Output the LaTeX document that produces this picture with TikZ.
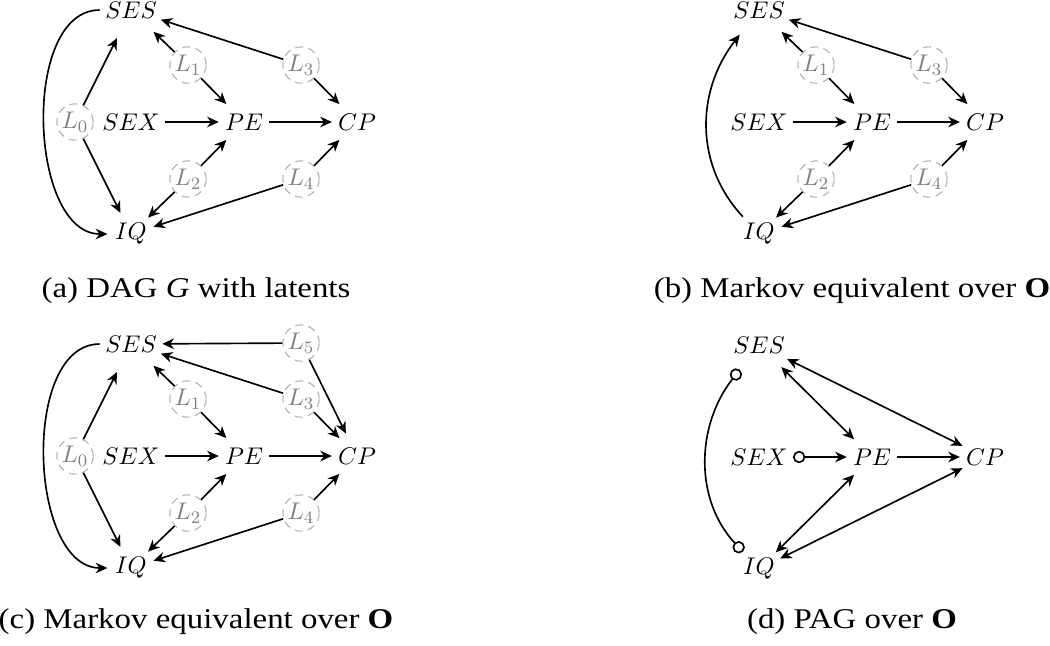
\documentclass[tikz,border=0pt]{standalone}
\usepackage{fontspec}
\usepackage{graphicx}
\newfontfamily\capfont{Liberation Serif}
\usetikzlibrary{arrows.meta}
\begin{document}
\begin{tikzpicture}[x=0.4545pt,y=0.4545pt,
  obs/.style={circle, inner sep=1.4pt, font=\fontsize{10.8}{13}\selectfont},
  lat/.style={circle, draw=gray!60, dash pattern=on 3.5pt off 2.5pt, line width=0.5pt, text=gray, minimum size=16.5pt, inner sep=0pt, font=\fontsize{10.8}{13}\selectfont},
  mytip/.tip={Stealth[length=5.3pt,width=4.8pt,inset=1.7pt]},
  myctip/.tip={Circle[open,length=5.6pt,fill=white]},
  arr/.style={line width=0.75pt, -mytip},
  biarr/.style={line width=0.75pt, mytip-mytip},
  ooarr/.style={line width=0.75pt, myctip-myctip},
  oaarr/.style={line width=0.75pt, myctip-mytip},
  captext/.style={anchor=base, font=\capfont\fontsize{13}{15}\selectfont}
]
\useasboundingbox (0,0) rectangle (1050,-645);

% ---------- (a) ----------
\begin{scope}[shift={(131,-122)}, name prefix=a-]
  \node[obs] (SEX) at (0,0) {$SEX$};
  \node[obs] (PE) at (113,0) {$PE$};
  \node[obs] (CP) at (226,0) {$CP$};
  \node[obs] (SES) at (0,112) {$SES$};
  \node[obs] (IQ) at (0,-112) {$IQ$};
  \node[lat] (L0) at (-56,0) {$L_0$};
  \node[lat] (L1) at (57,57) {$L_1$};
  \node[lat] (L2) at (57,-57) {$L_2$};
  \node[lat] (L3) at (170,57) {$L_3$};
  \node[lat] (L4) at (170,-57) {$L_4$};
  \draw[arr] (SEX) -- (PE);
  \draw[arr] (PE) -- (CP);
  \draw[arr] (L0) -- (SES);
  \draw[arr] (L0) -- (IQ);
  \draw[arr] (L1) -- (SES);
  \draw[arr] (L1) -- (PE);
  \draw[arr] (L2) -- (PE);
  \draw[arr] (L2) -- (IQ);
  \draw[arr] (L3) -- (SES);
  \draw[arr] (L3) -- (CP);
  \draw[arr] (L4) -- (CP);
  \draw[arr] (L4) -- (IQ);
  \draw[arr] (SES.180) to[out=180,in=180,looseness=0.9] (IQ.180);
\end{scope}
\node[captext] (capa) at (196,-297) {\scalebox{1.15}[1]{(a) DAG \textit{G} with latents}};

% ---------- (b) ----------
\begin{scope}[shift={(759,-122)}, name prefix=b-]
  \node[obs] (SEX) at (0,0) {$SEX$};
  \node[obs] (PE) at (113,0) {$PE$};
  \node[obs] (CP) at (226,0) {$CP$};
  \node[obs] (SES) at (0,112) {$SES$};
  \node[obs] (IQ) at (0,-112) {$IQ$};
  \node[lat] (L1) at (57,57) {$L_1$};
  \node[lat] (L2) at (57,-57) {$L_2$};
  \node[lat] (L3) at (170,57) {$L_3$};
  \node[lat] (L4) at (170,-57) {$L_4$};
  \draw[arr] (SEX) -- (PE);
  \draw[arr] (PE) -- (CP);
  \draw[arr] (L1) -- (SES);
  \draw[arr] (L1) -- (PE);
  \draw[arr] (L2) -- (PE);
  \draw[arr] (L2) -- (IQ);
  \draw[arr] (L3) -- (SES);
  \draw[arr] (L3) -- (CP);
  \draw[arr] (L4) -- (CP);
  \draw[arr] (L4) -- (IQ);
  \draw[arr] (IQ.133) to[out=133,in=232] (SES.232);
\end{scope}
\node[captext] (capb) at (852,-297) {\scalebox{1.15}[1]{(b) Markov equivalent over \textbf{O}}};

% ---------- (c) ----------
\begin{scope}[shift={(131,-456)}, name prefix=c-]
  \node[obs] (SEX) at (0,0) {$SEX$};
  \node[obs] (PE) at (113,0) {$PE$};
  \node[obs] (CP) at (226,0) {$CP$};
  \node[obs] (SES) at (0,112) {$SES$};
  \node[obs] (IQ) at (0,-112) {$IQ$};
  \node[lat] (L0) at (-56,0) {$L_0$};
  \node[lat] (L1) at (57,57) {$L_1$};
  \node[lat] (L2) at (57,-57) {$L_2$};
  \node[lat] (L3) at (170,57) {$L_3$};
  \node[lat] (L4) at (170,-57) {$L_4$};
  \node[lat] (L5) at (170,113) {$L_5$};
  \draw[arr] (SEX) -- (PE);
  \draw[arr] (PE) -- (CP);
  \draw[arr] (L0) -- (SES);
  \draw[arr] (L0) -- (IQ);
  \draw[arr] (L1) -- (SES);
  \draw[arr] (L1) -- (PE);
  \draw[arr] (L2) -- (PE);
  \draw[arr] (L2) -- (IQ);
  \draw[arr] (L3) -- (SES);
  \draw[arr] (L3) -- (CP);
  \draw[arr] (L4) -- (CP);
  \draw[arr] (L4) -- (IQ);
  \draw[arr] (L5) -- (SES);
  \draw[arr] (L5) -- (CP);
  \draw[arr] (SES.180) to[out=180,in=180,looseness=0.9] (IQ.180);
\end{scope}
\node[captext] (capc) at (196,-628) {\scalebox{1.15}[1]{(c) Markov equivalent over \textbf{O}}};

% ---------- (d) ----------
\begin{scope}[shift={(759,-457)}, name prefix=d-]
  \node[obs] (SEX) at (0,0) {$SEX$};
  \node[obs] (PE) at (113,0) {$PE$};
  \node[obs] (CP) at (226,0) {$CP$};
  \node[obs] (SES) at (0,112) {$SES$};
  \node[obs] (IQ) at (0,-112) {$IQ$};
  \draw[oaarr] (SEX) -- (PE);
  \draw[arr] (PE) -- (CP);
  \draw[biarr] (SES) -- (PE);
  \draw[biarr] (SES) -- (CP);
  \draw[biarr] (IQ) -- (PE);
  \draw[biarr] (IQ) -- (CP);
  \draw[ooarr] (SES.232) to[out=232,in=133] (IQ.133);
\end{scope}
\node[captext] (capd) at (852,-628) {\scalebox{1.15}[1]{(d) PAG over \textbf{O}}};
\end{tikzpicture}
\end{document}
